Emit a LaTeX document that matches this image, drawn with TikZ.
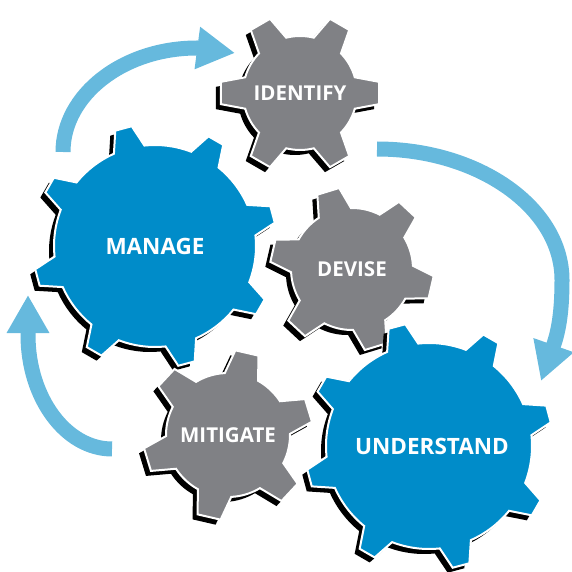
\documentclass[tikz,border=0pt]{standalone}
\usepackage{fontspec}
\setmainfont{Open Sans}
\usetikzlibrary{arrows.meta}

\definecolor{cogblue}{RGB}{0,140,201}
\definecolor{coggrey}{RGB}{128,129,133}
\definecolor{loopblue}{RGB}{102,185,221}

% cog: centre, teeth, offset, inner r, outer r, base half angle, tip half angle, colour
\newcommand{\cog}[8]{%
  \fill[black,shift={(#1)},xshift=-5pt,yshift=-5pt]
    ({#3-#6}:#4) \foreach \k in {1,...,#2} {
      -- ({#3+(\k-1)*360/#2-#6}:#4) -- ({#3+(\k-1)*360/#2-#7}:#5)
      -- ({#3+(\k-1)*360/#2+#7}:#5) -- ({#3+(\k-1)*360/#2+#6}:#4)
      arc[start angle={#3+(\k-1)*360/#2+#6}, delta angle={360/#2-2*#6}, radius=#4]
    } -- cycle;
  \filldraw[fill=#8,draw=white,line width=2pt,shift={(#1)}]
    ({#3-#6}:#4) \foreach \k in {1,...,#2} {
      -- ({#3+(\k-1)*360/#2-#6}:#4) -- ({#3+(\k-1)*360/#2-#7}:#5)
      -- ({#3+(\k-1)*360/#2+#7}:#5) -- ({#3+(\k-1)*360/#2+#6}:#4)
      arc[start angle={#3+(\k-1)*360/#2+#6}, delta angle={360/#2-2*#6}, radius=#4]
    } -- cycle;
}

\begin{document}
\begin{tikzpicture}[x=1pt,y=1pt,
        cyclearrow/.style = {loopblue, line width=15pt, -{Triangle[width=40pt,length=38pt]}},
        biglabel/.style = {text=white, font=\bfseries\fontsize{22.5}{22.5}\selectfont},
        smalllabel/.style = {text=white, font=\bfseries\fontsize{20.5}{20.5}\selectfont},
        ]
    \useasboundingbox (0,0) rectangle (572,571);

    % gear centres
    \coordinate (cI) at (300,478);
    \coordinate (cM) at (155,325);
    \coordinate (cD) at (352,302);
    \coordinate (cG) at (228,136);
    \coordinate (cU) at (429,125);

    % arrow ends
    \coordinate (a1) at (63,419);
    \coordinate (h1) at (197,523);
    \coordinate (t1) at (235,518);
    \coordinate (a2) at (377,422);
    \coordinate (r2) at (562,291);
    \coordinate (h2) at (554,227);
    \coordinate (t2) at (541,190);
    \coordinate (a3) at (112,122);
    \coordinate (h3) at (28,236);
    \coordinate (t3) at (28,276);

    \draw[cyclearrow] (a1) .. controls +(0,57) and +(-74,0) .. (h1) -- (t1);
    \draw[cyclearrow] (a2) .. controls +(102,0) and +(0,72) .. (r2)
        .. controls +(0,-30) and +(5,15) .. (h2) -- (t2);
    \draw[cyclearrow] (a3) .. controls +(-46,0) and +(0,-63) .. (h3) -- (t3);

    \cog{cI}{6}{0}{57}{80}{16}{8}{coggrey}
    \cog{cM}{8}{15}{101}{122}{9}{4}{cogblue}
    \cog{cD}{6}{47}{61}{82}{16}{8}{coggrey}
    \cog{cG}{6}{17}{62}{85}{16}{8}{coggrey}
    \cog{cU}{8}{15}{103}{124}{9}{4}{cogblue}

    \node[smalllabel] (identify) at (cI) {IDENTIFY};
    \node[biglabel] (manage) at (cM) {MANAGE};
    \node[smalllabel] (devise) at (cD) {DEVISE};
    \node[smalllabel] (mitigate) at (cG) {MITIGATE};
    \node[biglabel,xshift=3pt] (understand) at (cU) {UNDERSTAND};
\end{tikzpicture}
\end{document}
